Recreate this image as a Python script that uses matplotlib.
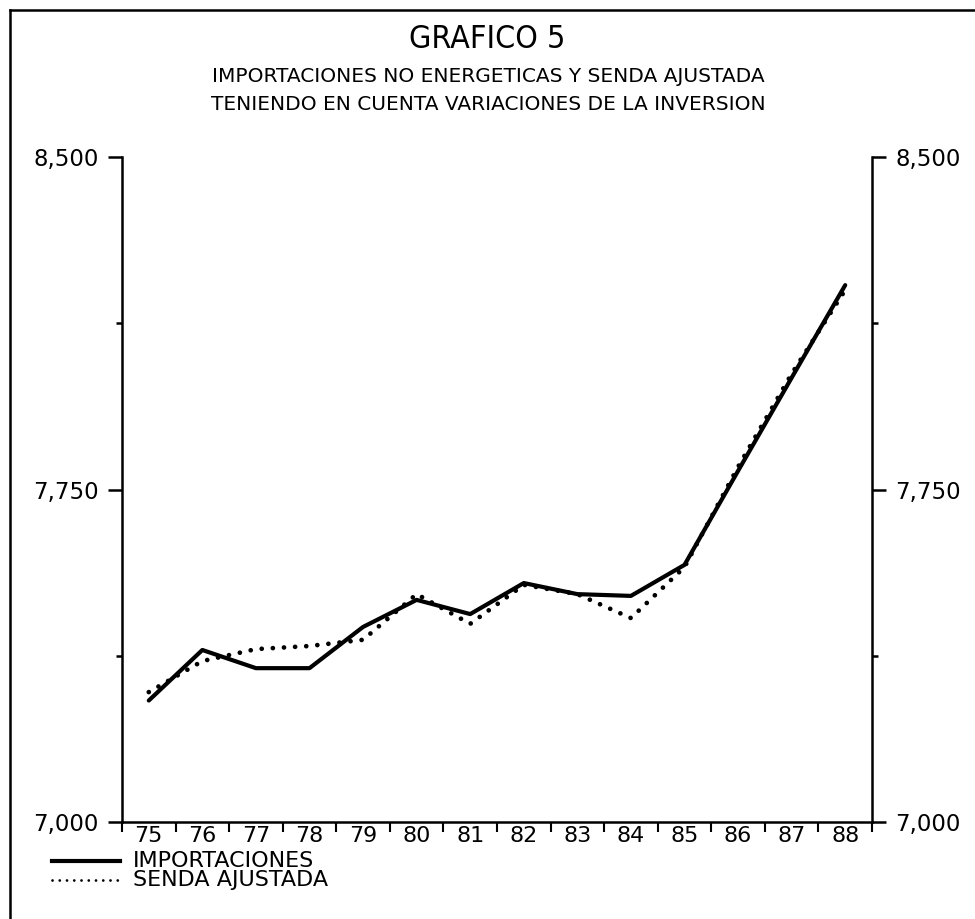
import matplotlib
matplotlib.use("Agg")
import matplotlib.pyplot as plt
from matplotlib.lines import Line2D
from matplotlib.ticker import FixedLocator, FuncFormatter

years = ["75", "76", "77", "78", "79", "80", "81", "82", "83", "84", "85", "86", "87", "88"]
importaciones = [7274, 7388, 7347, 7347, 7440, 7501, 7469, 7539, 7514, 7510, 7580, 7792, 8002, 8211]
senda_ajustada = [7293, 7363, 7390, 7397, 7411, 7514, 7447, 7535, 7514, 7460, 7575, 7801, 8011, 8200]
y_major = [7000, 7750, 8500]
y_minor = [7375, 8125]

title = "GRAFICO 5"
subtitle1 = "IMPORTACIONES NO ENERGETICAS Y SENDA AJUSTADA"
subtitle2 = "TENIENDO EN CUENTA VARIACIONES DE LA INVERSION"
legend_labels = ["IMPORTACIONES", "SENDA AJUSTADA"]

plt.rcParams['font.family'] = ['DejaVu Sans']

W, H = 975, 919
fig = plt.figure(figsize=(W / 100, H / 100), dpi=100)
ax = fig.add_axes([122 / W, 1 - 822 / H, 750 / W, 665 / H])

x = list(range(len(years)))
ax.plot(x, importaciones, color="black", lw=3.0, solid_joinstyle="round", solid_capstyle="round")
ax.plot(x, senda_ajustada, color="black", lw=3.4, linestyle=(0, (0.01, 2.35)),
        dash_capstyle="round")

ax.set_xlim(-0.5, len(years) - 0.5)
ax.set_ylim(7000, 8500)

ax.spines["top"].set_visible(False)
for s in ["left", "right", "bottom"]:
    ax.spines[s].set_linewidth(1.8)

fmt = FuncFormatter(lambda v, p: f"{int(v):,}")
ax.yaxis.set_major_locator(FixedLocator(y_major))
ax.yaxis.set_minor_locator(FixedLocator(y_minor))
ax.yaxis.set_major_formatter(fmt)
ax.tick_params(axis="y", which="major", direction="out", length=10, width=1.8,
               labelsize=16.5, left=True, right=True, labelleft=True, labelright=True, pad=7)
ax.tick_params(axis="y", which="minor", direction="out", length=4, width=1.8,
               left=True, right=True)

ax.set_xticks(x)
ax.set_xticklabels(years)
ax.set_xticks([i - 0.5 for i in range(len(years) + 1)], minor=True)
ax.tick_params(axis="x", which="major", length=0, labelsize=16, pad=3)
ax.tick_params(axis="x", which="minor", direction="out", length=7, width=1.5)

fig.text(487 / W, 1 - 40 / H, title, ha="center", va="center", fontsize=23, fontstretch="condensed")
fig.text(488 / W, 1 - 76 / H, subtitle1, ha="center", va="center", fontsize=14.5)
fig.text(488 / W, 1 - 104 / H, subtitle2, ha="center", va="center", fontsize=14.5)

fig.add_artist(Line2D([52 / W, 120 / W], [1 - 861 / H, 1 - 861 / H], color="black", lw=3.0,
                      transform=fig.transFigure))
fig.add_artist(Line2D([52 / W, 120 / W], [1 - 880 / H, 1 - 880 / H], color="black", lw=2.0,
                      linestyle=(0, (0.01, 2.6)), dash_capstyle="round", transform=fig.transFigure))
fig.text(133 / W, 1 - 861 / H, legend_labels[0], ha="left", va="center", fontsize=16)
fig.text(133 / W, 1 - 880 / H, legend_labels[1], ha="left", va="center", fontsize=16)

fig.add_artist(Line2D([10 / W, 1.0], [1 - 10 / H, 1 - 10 / H], color="black", lw=1.8,
                      transform=fig.transFigure))
fig.add_artist(Line2D([10 / W, 10 / W], [1 - 10 / H, 0], color="black", lw=1.8,
                      transform=fig.transFigure))

fig.savefig("out.png", dpi=100)
